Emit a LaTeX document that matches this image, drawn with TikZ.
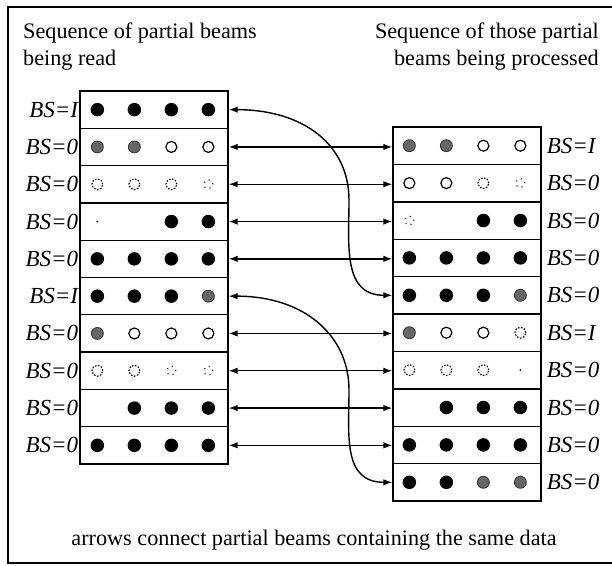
\documentclass[tikz,border=0pt]{standalone}
\usepackage{fontspec}
\setmainfont{Liberation Serif}
\usetikzlibrary{arrows.meta}

\begin{document}
\begin{tikzpicture}[x=1pt,y=-1pt,
  txt/.style={inner sep=0pt, font=\fontsize{22.2}{27}\selectfont},
  bslabel/.style={inner sep=1pt, font=\fontsize{23}{26}\selectfont\itshape},
  beam/.style={draw, line width=1.3pt, minimum width=148pt, minimum height=37.3pt, inner sep=0pt},
  dB/.style={circle, fill=black, minimum size=13.5pt, inner sep=0pt},
  dG/.style={circle, fill=black!60, draw=black!80, line width=0.8pt, minimum size=12pt, inner sep=0pt},
  dH/.style={circle, draw=black, line width=1.2pt, minimum size=11pt, inner sep=0pt},
  dD/.style={circle, draw=black, line width=1.1pt, dash pattern=on 1.6pt off 1.5pt, minimum size=11pt, inner sep=0pt},
  dF/.style={circle, draw=black, line width=1.1pt, dash pattern=on 1pt off 4.5pt, minimum size=9pt, inner sep=0pt},
  dT/.style={circle, fill=black, minimum size=2pt, inner sep=0pt},
  dE/.style={circle, minimum size=12pt, inner sep=0pt},
  link/.style={{Latex[length=9pt,width=6.5pt]}-{Latex[length=9pt,width=6.5pt]}, line width=1.4pt},
  frame/.style={line width=1.6pt}]

\useasboundingbox (0,0) rectangle (612,565);

% outer frame, open on the right
\draw[frame] (612,7) -- (8,7) -- (8,563) -- (612,563);

% headings
\node[txt, anchor=base west] (headL1) at (23,38) {Sequence of partial beams};
\node[txt, anchor=base west] (headL2) at (23,65) {being read};
\node[txt, anchor=base east] (headR1) at (599,38) {Sequence of those partial};
\node[txt, anchor=base east] (headR2) at (599,65) {beams being processed};

% partial beams as read (left column)
\foreach \i/\bs/\pat in {
  1/I/{dB,dB,dB,dB},
  2/0/{dG,dG,dH,dH},
  3/0/{dD,dD,dD,dF},
  4/0/{dT,dE,dB,dB},
  5/0/{dB,dB,dB,dB},
  6/I/{dB,dB,dB,dG},
  7/0/{dG,dH,dH,dH},
  8/0/{dD,dD,dF,dF},
  9/0/{dE,dB,dB,dB},
  10/0/{dB,dB,dB,dB}} {
  \node[beam] (L\i) at (154,{91+37.3*(\i-0.5)}) {};
  \node[bslabel, anchor=east] (LBS\i) at (L\i.west) {BS=\bs};
  \foreach \t [count=\k] in \pat {
    \path (L\i.west) ++({18+37*(\k-1)},0) node[\t] (L\i d\k) {};
  }
}

% the same partial beams as processed (right column)
\foreach \i/\bs/\pat in {
  1/I/{dG,dG,dH,dH},
  2/0/{dH,dH,dD,dF},
  3/0/{dF,dE,dB,dB},
  4/0/{dB,dB,dB,dB},
  5/0/{dB,dB,dB,dG},
  6/I/{dG,dH,dH,dD},
  7/0/{dD,dD,dD,dT},
  8/0/{dE,dB,dB,dB},
  9/0/{dB,dB,dB,dB},
  10/0/{dB,dB,dG,dG}} {
  \node[beam] (R\i) at (467,{127+37.4*(\i-0.5)}) {};
  \node[bslabel, anchor=west] (RBS\i) at ([xshift=4pt]R\i.east) {BS=\bs};
  \foreach \t [count=\k] in \pat {
    \path (R\i.west) ++({17+37*(\k-1)},0) node[\t] (R\i d\k) {};
  }
}

% straight links between beams holding the same data
\foreach \a/\b in {2/1,3/2,4/3,5/4,7/6,8/7,9/8,10/9} {
  \draw[link] (L\a.east) -- (L\a.east -| R\b.west);
}

% reordered beams
\coordinate (bend1) at (349,200);
\coordinate (bend2) at (349,390);
\draw[link] (L1.east) .. controls +(75,0) and +(0,-55) .. (bend1)
                      .. controls +(0,45) and +(-50,0) .. (R5.west);
\draw[link] (L6.east) .. controls +(75,0) and +(0,-55) .. (bend2)
                      .. controls +(0,45) and +(-50,0) .. (R10.west);

% caption
\node[txt] (caption) at (314,540)
  {arrows connect partial beams containing the same data};

\end{tikzpicture}
\end{document}
